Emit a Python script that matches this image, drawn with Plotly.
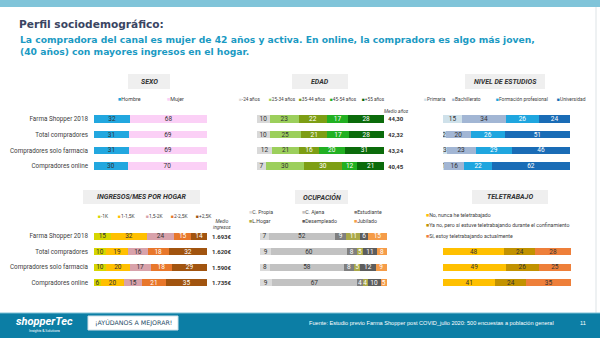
import plotly.graph_objects as go

W, H = 600, 338

rows = ["Farma Shopper 2018", "Total compradores", "Compradores solo farmacia", "Compradores online"]

# ---- data ----
sexo_names = ["Hombre", "Mujer"]
sexo_vals = [[32, 31, 31, 30], [68, 69, 69, 70]]

edad_names = ["-24 años", "25-34 años", "35-44 años", "45-54 años", "+55 años"]
edad_vals = [[10, 10, 12, 7], [23, 25, 21, 30], [22, 21, 16, 30], [17, 17, 20, 12], [28, 28, 31, 21]]
edad_medio = ["44,30", "42,32", "43,24", "40,45"]

est_names = ["Primaria", "Bachillerato", "Formación profesional", "Universidad"]
est_vals = [[15, 2, 3, 1], [34, 20, 23, 16], [26, 26, 29, 22], [24, 51, 46, 62]]

ing_names = ["-1K", "1-1,5K", "1,5-2K", "2-2,5K", "+2,5K"]
ing_vals = [[15, 10, 10, 6], [32, 19, 20, 20], [24, 16, 17, 15], [15, 18, 18, 21], [14, 32, 29, 35]]
ing_medio = ["1.693€", "1.620€", "1.590€", "1.735€"]

ocu_names = ["C. Propia", "C. Ajena", "Estudiante", "L.Hogar", "Desempleado", "Jubilado"]
ocu_vals = [[7, 9, 8, 9], [52, 60, 58, 67], [9, 8, 8, 4], [11, 5, 5, 4], [6, 11, 12, 10], [15, 8, 9, 5]]

tele_rows = rows[1:]
tele_names = ["No, nunca he teletrabajado",
              "Ya no, pero sí estuve teletrabajando durante el confinamiento",
              "Sí, estoy teletrabajando actualmente"]
tele_vals = [[48, 49, 41], [24, 26, 24], [28, 25, 35]]

# ---- styles ----
sexo_colors = ["#22a7df", "#fbd0f6"]
sexo_txt = ["#333333", "#333333"]
edad_colors = ["#d9d9d9", "#9ccf5c", "#7d9e14", "#22b022", "#0b6b0b"]
edad_txt = ["#333333", "#333333", "#ffffff", "#ffffff", "#ffffff"]
est_colors = ["#cfe1ea", "#a2b6d4", "#1fa6df", "#1a6cb6"]
est_txt = ["#333333", "#333333", "#ffffff", "#ffffff"]
ing_colors = ["#d6d600", "#ffc000", "#d8a2ab", "#e8772b", "#a1540f"]
ing_txt = ["#333333", "#333333", "#333333", "#ffffff", "#ffffff"]
ocu_colors = ["#dadada", "#c2c2c2", "#7f7f7f", "#aaa848", "#5d5d5d", "#f59c48"]
ocu_txt = ["#333333", "#333333", "#ffffff", "#ffffff", "#ffffff", "#ffffff"]
tele_colors = ["#ffc000", "#c29200", "#ee7f3a"]
tele_txt = ["#333333", "#333333", "#333333"]

FONT = "Roboto"
DARK = "#404040"


def px_x(a):
    return a / W


def px_y(a):
    return 1 - a / H


fig = go.Figure()

panels = [
    (sexo_names, sexo_vals, sexo_colors, sexo_txt, rows, (94, 207), (111, 174), True),
    (edad_names, edad_vals, edad_colors, edad_txt, rows, (257, 384), (111, 174), False),
    (est_names, est_vals, est_colors, est_txt, rows, (443, 570), (111, 174), False),
    (ing_names, ing_vals, ing_colors, ing_txt, rows, (94, 207), (228.5, 290.5), True),
    (ocu_names, ocu_vals, ocu_colors, ocu_txt, rows, (260, 387), (228.5, 290.5), False),
    (tele_names, tele_vals, tele_colors, tele_txt, tele_rows, (443, 571), (228.5, 290.5), False),
]

layout_axes = {}
for i, (names, vals, cols, tcols, ycats, xd, yd, showlab) in enumerate(panels, start=1):
    for name, v, c, tc in zip(names, vals, cols, tcols):
        fig.add_trace(go.Bar(
            x=v, y=ycats, orientation="h", name=name,
            marker=dict(color=c, line=dict(width=0)),
            text=[str(t) for t in v], textposition="inside", insidetextanchor="middle",
            textangle=0, textfont=dict(family=FONT, size=6.5, color=tc),
            xaxis=f"x{i}", yaxis=f"y{i}", showlegend=False, hoverinfo="skip",
        ))
    sfx = "" if i == 1 else str(i)
    layout_axes[f"xaxis{sfx}"] = dict(domain=[px_x(xd[0]), px_x(xd[1])], range=[0, 100],
                                       visible=False, anchor=f"y{i}", fixedrange=True)
    layout_axes[f"yaxis{sfx}"] = dict(domain=[px_y(yd[1]), px_y(yd[0])], type="category",
                                       categoryorder="array", categoryarray=rows,
                                       range=[3.5, -0.5], anchor=f"x{i}",
                                       showgrid=False, zeroline=False, showline=False,
                                       ticks="", showticklabels=showlab,
                                       ticklabelstandoff=5,
                                       tickfont=dict(family=FONT, size=6.3, color=DARK),
                                       fixedrange=True)

shapes = []
annotations = []


def ann(text, x, y, size, color=DARK, family=FONT, xanchor="left", align="left", yref="paper", ypx=True):
    annotations.append(dict(text=text, x=px_x(x), y=(px_y(y) if ypx else y), xref="paper", yref=yref,
                            xanchor=xanchor, yanchor="middle", align=align, showarrow=False,
                            font=dict(family=family, size=size, color=color)))


def rect(x0, x1, y0, y1, fill, line=None, layer="below"):
    shapes.append(dict(type="rect", xref="paper", yref="paper", x0=px_x(x0), x1=px_x(x1),
                       y0=px_y(y1), y1=px_y(y0), fillcolor=fill,
                       line=(line if line else dict(width=0)), layer=layer))


# page decorations
rect(0, W, 0, 7, "#80c4d9")
shapes.append(dict(type="line", xref="paper", yref="paper", x0=px_x(596), x1=px_x(596),
                   y0=px_y(313), y1=px_y(7), line=dict(color="#dde3e6", width=1)))
rect(0, W, 313, H, "#0c7ea5")
shapes.append(dict(type="line", xref="paper", yref="paper", x0=0, x1=1, y0=px_y(313), y1=px_y(313),
                   line=dict(color="#7fc1d6", width=1)))
rect(88, 178, 316, 330, "#ffffff", dict(color="#cfe0e8", width=1), layer="above")

ann("<b>Perfil sociodemográfico:</b>", 17, 24, 10.6, "#3a4562", "DejaVu Sans")
ann("<b>La compradora del canal es mujer de 42 años y activa. En online, la compradora es algo más joven,<br>(40 años) con mayores ingresos en el hogar.</b>",
    18, 45, 9.2, "#1b9ac3", "DejaVu Sans")

# footer
ann("<b><i>shopperTec</i></b>", 14, 321, 11, "#ffffff", "Roboto")
ann("Insights & Solutions", 44, 330.5, 3.5, "#ffffff", xanchor="center")
ann("¡AYÚDANOS A MEJORAR!", 133, 323, 6.3, "#1d4a66", "DejaVu Sans", xanchor="center")
ann("Fuente: Estudio previo Farma Shopper post COVID_julio 2020: 500 encuestas a población general",
    556, 323, 5.6, "#ffffff", "Liberation Sans", xanchor="right")
ann("11", 583, 323, 5.6, "#ffffff", "Liberation Sans", xanchor="center")

# panel title boxes
titles = [("SEXO", 128, 170, 74, 89), ("EDAD", 292, 348, 74, 89), ("NIVEL DE ESTUDIOS", 465, 545, 74, 89),
          ("INGRESOS/MES POR HOGAR", 83, 200, 190, 204), ("OCUPACIÓN", 295, 348, 190, 204),
          ("TELETRABAJO", 472, 548, 190, 204)]
for t, x0, x1, y0, y1 in titles:
    rect(x0, x1, y0, y1, "#efefef")
    ann(f"<b><i>{t}</i></b>", (x0 + x1) / 2, (y0 + y1) / 2, 7, "#333333", xanchor="center")


def legend(names, cols, xs, ys, size=5.0):
    for n, c, x, y in zip(names, cols, xs, ys):
        ann(f'<span style="color:{c}">■</span>{n}', x, y, size)


legend(sexo_names, sexo_colors, [116, 165], [99, 99], 5.4)
legend(edad_names, edad_colors, [237, 267, 297, 328, 360], [99] * 5, 4.7)
legend(est_names, est_colors, [422, 450, 494, 555], [99] * 4, 4.9)
legend(ing_names, ing_colors, [96, 116, 144, 169, 194], [216] * 5, 4.9)
legend(ocu_names, ocu_colors, [247, 300, 352, 247, 300, 352], [212, 212, 212, 221, 221, 221], 5.2)
legend(tele_names, tele_colors, [424, 424, 424], [215, 225, 236], 5.2)

# medio labels
ann("<i>Medio años</i>", 396, 111, 4.8, xanchor="center")
for k, v in enumerate(edad_medio):
    ann(f"<b>{v}</b>", 396, rows[k], 6, "#333333", xanchor="center", yref="y2", ypx=False)

ann("<i>Medio<br>ingresos</i>", 222, 224, 4.8, xanchor="center", align="center")
for k, v in enumerate(ing_medio):
    ann(f"<b>{v}</b>", 222, rows[k], 6, "#333333", xanchor="center", yref="y4", ypx=False)

fig.update_layout(
    width=W, height=H, margin=dict(l=0, r=0, t=0, b=0),
    paper_bgcolor="#ffffff", plot_bgcolor="rgba(0,0,0,0)",
    barmode="stack", barnorm="percent", bargap=0.52,
    uniformtext=dict(minsize=6.5, mode="show"),
    shapes=shapes, annotations=annotations, showlegend=False,
    font=dict(family=FONT),
    **layout_axes,
)

fig.write_html("out.html")
